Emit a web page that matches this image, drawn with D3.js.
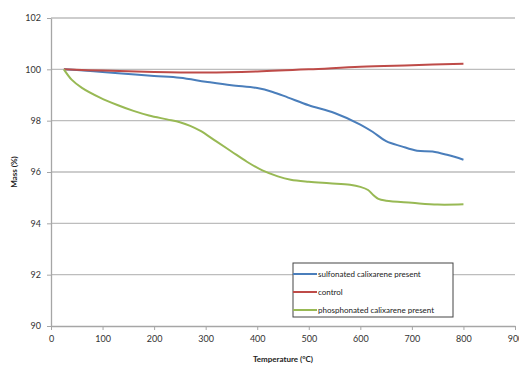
<!DOCTYPE html>
<html><head><meta charset="utf-8">
<script src="https://cdn.jsdelivr.net/npm/d3@7"></script>
<style>body{margin:0;background:#fff}svg{display:block}</style>
</head><body>
<script>
const seriesNames = ["sulfonated calixarene present", "control", "phosphonated calixarene present"];
const seriesColors = ["#4a7ebb", "#be4b48", "#98b954"];
const sulfonatedT = [25,50,100,150,200,250,300,350,400,430,460,500,550,600,625,650,680,710,740,770,800];
const sulfonatedM = [100,99.97,99.9,99.82,99.74,99.67,99.52,99.38,99.27,99.12,98.9,98.6,98.3,97.85,97.55,97.2,97.0,96.83,96.8,96.66,96.48];
const controlT = [25,100,200,300,400,500,600,700,800];
const controlM = [100,99.95,99.9,99.88,99.92,100.0,100.1,100.16,100.22];
const phosphonatedT = [25,40,60,95,130,160,190,225,250,270,290,320,350,380,410,440,465,500,540,580,600,615,625,635,650,700,750,800];
const phosphonatedM = [100,99.6,99.28,98.9,98.6,98.38,98.2,98.05,97.94,97.8,97.6,97.2,96.8,96.4,96.06,95.83,95.7,95.62,95.56,95.5,95.42,95.3,95.1,94.95,94.88,94.8,94.73,94.74];
const xTicks = [0,100,200,300,400,500,600,700,800,900];
const yTicks = [90,92,94,96,98,100,102];

const W = 519, H = 365;
const m = {left: 51, right: 4, top: 18, bottom: 39};
const svg = d3.select("body").append("svg").attr("width", W).attr("height", H);
const x = d3.scaleLinear().domain([0, 900]).range([m.left, W - m.right]);
const y = d3.scaleLinear().domain([90, 102]).range([H - m.bottom, m.top]);
const font = "Lato, 'Open Sans', sans-serif";

// gridlines
svg.append("g").selectAll("line").data(yTicks.filter(d => d > 90)).join("line")
  .attr("x1", x(0)).attr("x2", x(900)).attr("y1", d => y(d)).attr("y2", d => y(d))
  .attr("stroke", "#bdbdbd").attr("stroke-width", 1.3);

// axes
const xAxis = svg.append("g").attr("transform", `translate(0,${y(90)})`)
  .call(d3.axisBottom(x).tickValues(xTicks).tickSizeInner(4).tickSizeOuter(0).tickPadding(6));
const yAxis = svg.append("g").attr("transform", `translate(${x(0)},0)`)
  .call(d3.axisLeft(y).tickValues(yTicks).tickSizeInner(4).tickSizeOuter(0).tickPadding(6));
[xAxis, yAxis].forEach(a => {
  a.select(".domain").attr("stroke", "#a6a6a6").attr("stroke-width", 1.3);
  a.selectAll(".tick line").attr("stroke", "#a6a6a6");
  a.selectAll("text").attr("font-family", font).attr("font-size", 9).attr("fill", "#333");
});

const data = [
  sulfonatedT.map((t, i) => [t, sulfonatedM[i]]),
  controlT.map((t, i) => [t, controlM[i]]),
  phosphonatedT.map((t, i) => [t, phosphonatedM[i]])
];
const line = d3.line().x(d => x(d[0])).y(d => y(d[1])).curve(d3.curveCatmullRom.alpha(0.5));
svg.append("g").selectAll("path").data(data).join("path")
  .attr("d", line).attr("fill", "none")
  .attr("stroke", (d, i) => seriesColors[i]).attr("stroke-width", 2);

// axis titles
svg.append("text").attr("x", x(450)).attr("y", 362).attr("text-anchor", "middle")
  .attr("font-family", font).attr("font-weight", "bold").attr("font-size", 8).attr("fill", "#222")
  .text("Temperature (°C)");
svg.append("text").attr("transform", `translate(17,${y(96)}) rotate(-90)`).attr("text-anchor", "middle")
  .attr("font-family", font).attr("font-weight", "bold").attr("font-size", 8).attr("fill", "#222")
  .text("Mass (%)");

// legend
const lg = svg.append("g").attr("transform", "translate(293,263)");
lg.append("rect").attr("width", 160).attr("height", 54).attr("fill", "#fff")
  .attr("stroke", "#444").attr("stroke-width", 1);
seriesNames.forEach((n, i) => {
  const yy = 11 + i * 18;
  lg.append("line").attr("x1", 0).attr("x2", 24).attr("y1", yy).attr("y2", yy)
    .attr("stroke", seriesColors[i]).attr("stroke-width", 2);
  lg.append("text").attr("x", 25).attr("y", yy + 3).attr("font-family", font)
    .attr("font-size", 8).attr("fill", "#222").text(n);
});
</script>
</body></html>
